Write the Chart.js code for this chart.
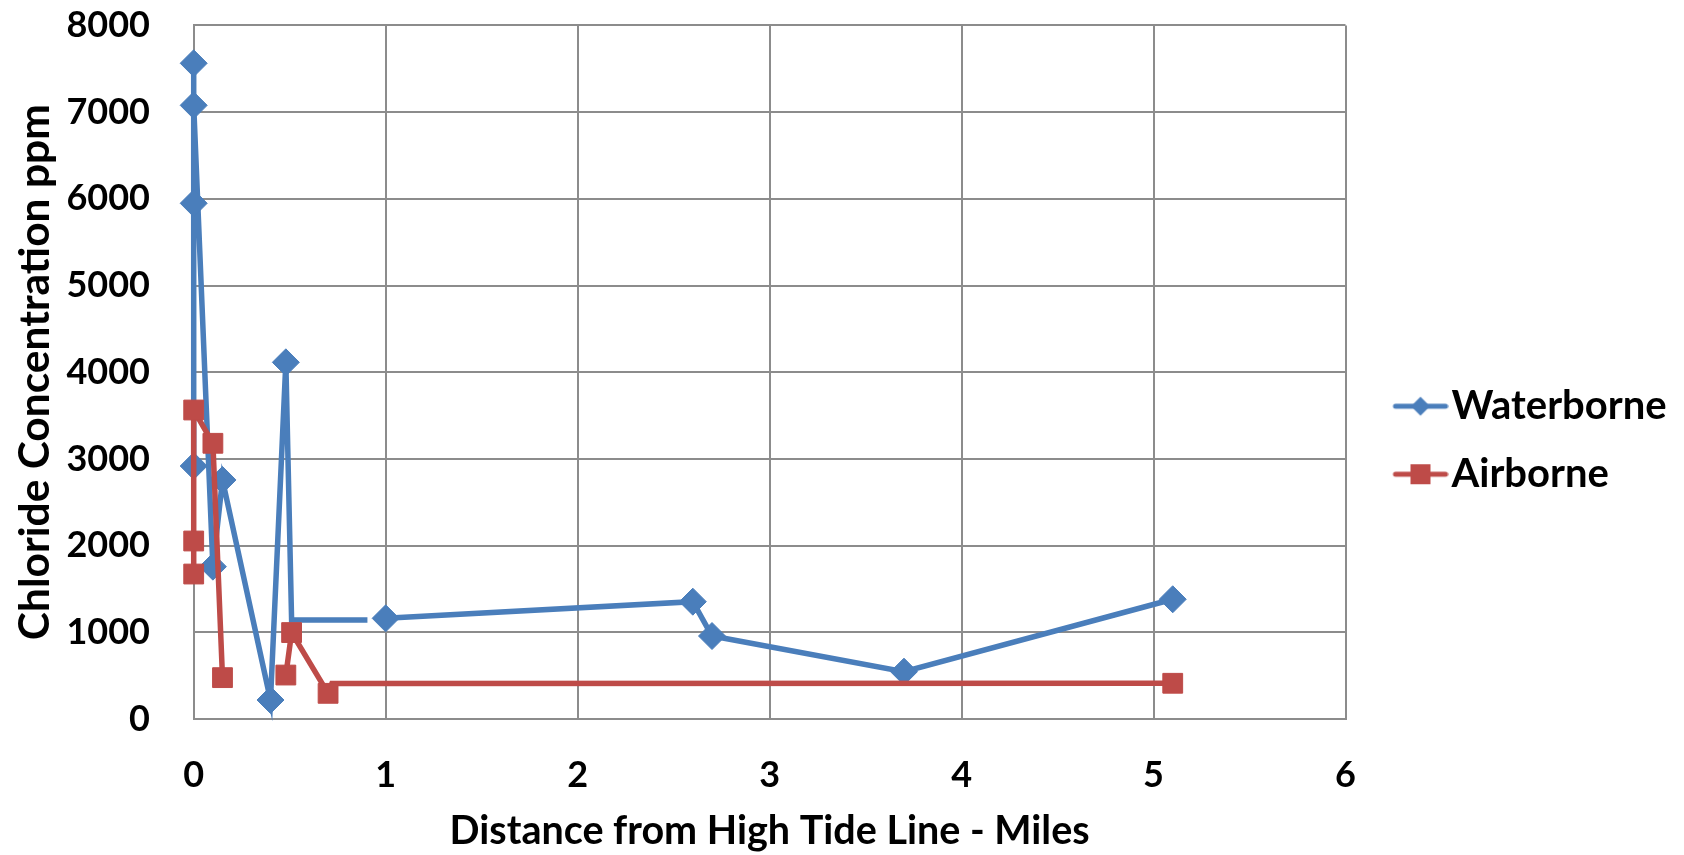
<!DOCTYPE html>
<html>
<head>
<meta charset="utf-8">
<script src="https://cdn.jsdelivr.net/npm/chart.js@4.4.1/dist/chart.umd.min.js"></script>
<style>
  html, body { margin: 0; padding: 0; background: #ffffff; }
  #wrap { width: 1684px; height: 855px; }
</style>
</head>
<body>
<div id="wrap"><canvas id="c" width="1684" height="855"></canvas></div>
<script>
// ---- data ----
const waterX = [0, 0, 0, 0, 0.10, 0.15, 0.40, 0.48, 0.51, 0.905, 0.95, 1.0, 2.6, 2.7, 3.7, 5.1];
const waterY = [2918, 5948, 7563, 7078, 1757, 2757, 219, 4114, 1142, 1142, null, 1161, 1353, 957, 546, 1381];
const waterNoMarker = [8, 9];           // indices drawn as line corners only

const airX = [0, 0, 0, 0.10, 0.15, 0.30, 0.48, 0.51, 0.70, 0.72, 5.1];
const airY = [1672, 2053, 3564, 3180, 477, null, 507, 997, 296, 410, 412];
const airNoMarker = [9];

const xTicks = [0, 1, 2, 3, 4, 5, 6];
const yTicks = [0, 1000, 2000, 3000, 4000, 5000, 6000, 7000, 8000];

const seriesNames = ['Waterborne', 'Airborne'];
const xTitle = 'Distance from High Tide Line - Miles';
const yTitle = 'Chloride Concentration ppm';

// ---- styling ----
const BLUE = '#4A7EBB';
const RED = '#BE4B48';
const GRID = '#8C8C8C';
const FONT = 'Lato';

function pts(xs, ys) { return xs.map((x, i) => ({ x: x, y: ys[i] })); }
function radii(n, hidden, r) { const a = []; for (let i = 0; i < n; i++) a.push(hidden.includes(i) ? 0 : r); return a; }

// legend symbol images (line + marker)
function legendSymbol(color, kind) {
  const c = document.createElement('canvas');
  c.width = 92; c.height = 28;
  const g = c.getContext('2d');
  const x0 = 36, x1 = 92, cy = 14, cx = (x0 + x1) / 2;
  g.strokeStyle = color; g.lineWidth = 5; g.lineCap = 'round';
  g.beginPath(); g.moveTo(x0 + 3, cy); g.lineTo(x1 - 3, cy); g.stroke();
  g.fillStyle = color;
  g.beginPath();
  if (kind === 'diamond') {
    const r = 9.5;
    g.moveTo(cx - r, cy); g.lineTo(cx, cy - r); g.lineTo(cx + r, cy); g.lineTo(cx, cy + r); g.closePath();
  } else {
    const h = 10;
    g.rect(cx - h, cy - h, 2 * h, 2 * h);
  }
  g.fill();
  return c;
}

const legendFontSize = 40;
const legendPad = 28;
const legendBoxW = 58;
const plotRight = 1345.5;

const mctx = document.createElement('canvas').getContext('2d');
const symW = legendSymbol(BLUE, 'diamond');
const symA = legendSymbol(RED, 'square');

function build() {
  mctx.font = 'bold ' + legendFontSize + 'px ' + FONT;
  const mt = Math.max(...seriesNames.map(s => mctx.measureText(s).width));
  const lw = legendPad + legendBoxW + legendFontSize / 2 + mt + 10;
  const pr = Math.max(0, 1684 - plotRight - lw);

  new Chart(document.getElementById('c'), {
    type: 'scatter',
    data: {
      datasets: [
        {
          label: seriesNames[0],
          data: pts(waterX, waterY),
          showLine: true,
          spanGaps: false,
          clip: false,
          borderColor: BLUE,
          backgroundColor: BLUE,
          borderWidth: 5.5,
          pointStyle: 'rectRot',
          pointRadius: radii(waterX.length, waterNoMarker, 13.5),
          pointBorderWidth: 1,
          pointBorderColor: BLUE,
          pointBackgroundColor: BLUE,
          borderJoinStyle: 'miter',
          order: 2
        },
        {
          label: seriesNames[1],
          data: pts(airX, airY),
          showLine: true,
          spanGaps: false,
          clip: false,
          borderColor: RED,
          backgroundColor: RED,
          borderWidth: 5.5,
          pointStyle: 'rect',
          pointRadius: radii(airX.length, airNoMarker, 14),
          pointBorderWidth: 1,
          pointBorderColor: RED,
          pointBackgroundColor: RED,
          borderJoinStyle: 'miter',
          order: 1
        }
      ]
    },
    options: {
      responsive: false,
      animation: false,
      events: [],
      layout: { padding: { top: 25.4, left: 0, bottom: 0, right: pr } },
      plugins: {
        tooltip: { enabled: false },
        legend: {
          position: 'right',
          align: 'center',
          labels: {
            usePointStyle: true,
            pointStyleWidth: legendBoxW,
            padding: legendPad,
            color: '#000000',
            font: { family: FONT, weight: 'bold', size: legendFontSize },
            generateLabels: (chart) => chart.data.datasets.map((ds, i) => ({
              text: ds.label,
              pointStyle: i === 0 ? symW : symA,
              fillStyle: ds.borderColor,
              strokeStyle: ds.borderColor,
              lineWidth: 0,
              hidden: false,
              datasetIndex: i,
              fontColor: '#000000'
            }))
          }
        }
      },
      scales: {
        x: {
          type: 'linear',
          min: xTicks[0],
          max: xTicks[xTicks.length - 1],
          afterBuildTicks: (s) => { s.ticks = xTicks.map(v => ({ value: v })); },
          afterFit: (s) => { s.height = 136; s.paddingLeft = 0; s.paddingRight = 0; },
          grid: { color: GRID, lineWidth: 2, drawTicks: false },
          border: { color: GRID, width: 2 },
          ticks: {
            color: '#000000',
            padding: 35,
            maxRotation: 0,
            autoSkip: false,
            font: { family: FONT, weight: 'bold', size: 36 },
            callback: (v) => String(v)
          },
          title: {
            display: true,
            text: xTitle,
            color: '#000000',
            font: { family: FONT, weight: 'bold', size: 39.5 },
            padding: { top: 0, bottom: 0 }
          }
        },
        y: {
          type: 'linear',
          min: yTicks[0],
          max: yTicks[yTicks.length - 1],
          afterBuildTicks: (s) => { s.ticks = yTicks.map(v => ({ value: v })); },
          afterFit: (s) => { s.width = 193.7; s.paddingTop = 0; s.paddingBottom = 0; },
          grid: { color: GRID, lineWidth: 2, drawTicks: false },
          border: { color: GRID, width: 2 },
          ticks: {
            color: '#000000',
            padding: 43.7,
            autoSkip: false,
            font: { family: FONT, weight: 'bold', size: 36 },
            callback: (v) => String(v)
          },
          title: {
            display: true,
            text: yTitle,
            color: '#000000',
            font: { family: FONT, weight: 'bold', size: 42.5 },
            padding: { top: 10, bottom: 0 }
          }
        }
      }
    }
  });
}

if (document.fonts && document.fonts.load) {
  document.fonts.load('bold 40px ' + FONT).then(build, build);
} else {
  build();
}
</script>
</body>
</html>
